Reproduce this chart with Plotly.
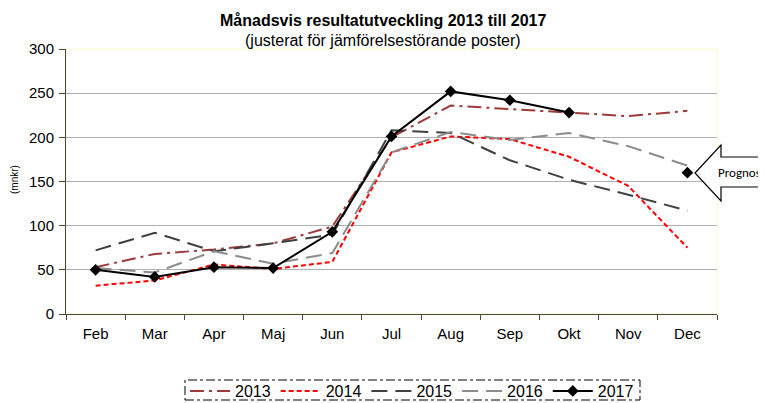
import plotly.graph_objects as go

months = ["Feb", "Mar", "Apr", "Maj", "Jun", "Jul", "Aug", "Sep", "Okt", "Nov", "Dec"]
y2013 = [53, 68, 73, 80, 99, 200, 236, 232, 228, 224, 230]
y2014 = [32, 38, 56, 51, 59, 183, 201, 198, 178, 145, 75]
y2015 = [72, 92, 71, 80, 90, 208, 205, 174, 152, 135, 117]
y2016 = [52, 47, 71, 57, 69, 183, 206, 197, 205, 190, 168]
y2017 = [50, 42, 53, 52, 93, 201, 252, 242, 228]
prognos_month = ["Dec"]
prognos_value = [160]

fig = go.Figure()
fig.add_trace(go.Scatter(x=months, y=y2013, name="2013", mode="lines",
                         line=dict(color="#9e3a3a", width=2, dash="14px,5px,3px,5px")))
fig.add_trace(go.Scatter(x=months, y=y2014, name="2014", mode="lines",
                         line=dict(color="#ff0000", width=2, dash="5px,3px")))
fig.add_trace(go.Scatter(x=months, y=y2015, name="2015", mode="lines",
                         line=dict(color="#404040", width=2, dash="16px,8px")))
fig.add_trace(go.Scatter(x=months, y=y2016, name="2016", mode="lines",
                         line=dict(color="#8c8c8c", width=2, dash="16px,8px")))
fig.add_trace(go.Scatter(x=months[:len(y2017)], y=y2017, name="2017", mode="lines+markers",
                         line=dict(color="#000000", width=2),
                         marker=dict(symbol="diamond", size=9, color="#000000")))
fig.add_trace(go.Scatter(x=prognos_month, y=prognos_value, mode="markers", showlegend=False,
                         marker=dict(symbol="diamond", size=9, color="#000000")))

# page has an 8px body margin; work in page pixel coordinates
OFF = 8
PAGE_W, PAGE_H = 766, 403
W, H = PAGE_W - OFF, PAGE_H - OFF
L, R, T, B = 66, 717, 49, 314  # plot area in page pixels
def px(x): return (x - L) / (R - L)
def py(y): return (B - y) / (B - T)

shapes = [
    dict(type="rect", xref="paper", yref="paper", x0=0, x1=1, y0=0, y1=1,
         line=dict(color="#fafac8", width=1), layer="below"),
]
arrow = [(695, 173), (721, 145), (721, 157), (770, 157), (770, 187), (721, 187), (721, 201)]
path = "M " + " L ".join(f"{px(x)},{py(y)}" for x, y in arrow) + " Z"
shapes.append(dict(type="path", xref="paper", yref="paper", path=path,
                   line=dict(color="#000000", width=1.2), fillcolor="white"))
# legend dashed frame
shapes.append(dict(type="rect", xref="paper", yref="paper",
                   x0=px(185), x1=px(640), y0=py(400), y1=py(380),
                   line=dict(color="#000000", width=1, dash="dashdot")))

fig.update_layout(
    width=W, height=H,
    margin=dict(l=L - OFF, r=PAGE_W - R, t=T - OFF, b=PAGE_H - B, autoexpand=False),
    paper_bgcolor="white", plot_bgcolor="white",
    font=dict(family="Liberation Sans, Arial", size=15, color="#000000"),
    showlegend=True,
    legend=dict(orientation="h", x=px(412), xanchor="center", y=py(391), yanchor="middle",
                font=dict(size=16), bgcolor="rgba(0,0,0,0)", itemwidth=40,
                tracegroupgap=0),
    shapes=shapes,
    annotations=[
        dict(text="<b>Månadsvis resultatutveckling 2013 till 2017</b>", xref="paper", yref="paper",
             x=px(383), y=py(20), showarrow=False, xanchor="center", yanchor="middle",
             font=dict(family="Liberation Sans Narrow, Liberation Sans", size=16)),
        dict(text="(justerat för jämförelsestörande poster)", xref="paper", yref="paper",
             x=px(383), y=py(40), showarrow=False, xanchor="center", yanchor="middle",
             font=dict(family="Liberation Sans Narrow, Liberation Sans", size=16)),
        dict(text="Prognos", xref="paper", yref="paper", x=px(739), y=py(172),
             showarrow=False, xanchor="center", yanchor="middle",
             font=dict(family="Carlito, Lato, Liberation Sans", size=13)),
        dict(text="(mnkr)", xref="paper", yref="paper", x=px(14), y=py(180),
             showarrow=False, textangle=-90, xanchor="center", yanchor="middle",
             font=dict(size=10)),
    ],
    xaxis=dict(type="category", categoryorder="array", categoryarray=months,
               showgrid=False, showline=True, linecolor="#4a4a30", linewidth=1,
               ticks="outside", ticklen=5, tickcolor="#4a4a30", tickson="boundaries",
               ticklabelstandoff=6,
               range=[-0.5, 10.5], fixedrange=True, automargin=False),
    yaxis=dict(range=[0, 300], dtick=50, showgrid=True, gridcolor="#b0b0b0", gridwidth=1,
               showline=True, linecolor="#4a4a30", linewidth=1, ticks="outside",
               ticklen=6, tickcolor="#4a4a30", zeroline=False, fixedrange=True,
               ticklabelstandoff=2, automargin=False),
)

fig.write_html("out.html")
